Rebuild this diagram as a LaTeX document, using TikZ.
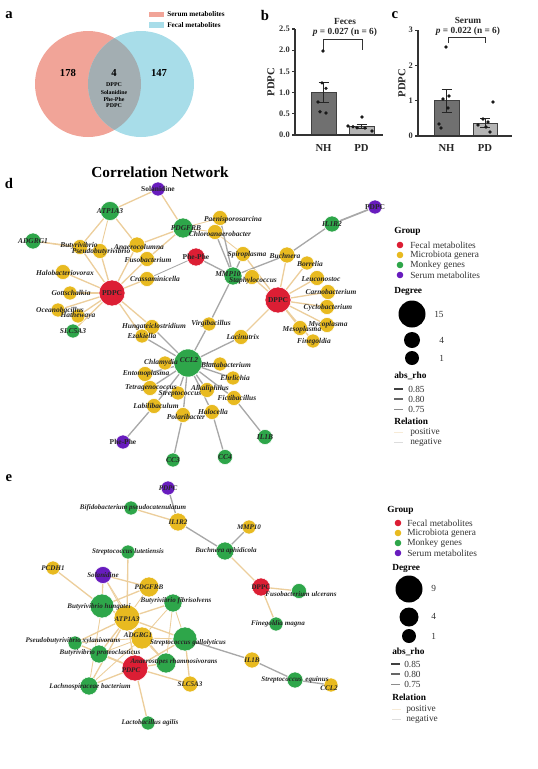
\documentclass[tikz,border=0pt]{standalone}
\usepackage{fontspec}
\setmainfont{Liberation Serif}
\definecolor{fecal}{RGB}{220,30,52}
\definecolor{micro}{RGB}{232,186,32}
\definecolor{monk}{RGB}{46,166,74}
\definecolor{serum}{RGB}{104,28,190}
\definecolor{tanc}{RGB}{236,206,156}
\definecolor{greyc}{RGB}{168,168,168}
\definecolor{salmon}{RGB}{241,164,152}
\definecolor{skyb}{RGB}{168,221,233}
\definecolor{lens}{RGB}{163,174,178}
\definecolor{bardark}{RGB}{112,112,112}
\definecolor{barlight}{RGB}{180,180,180}
\pgfdeclarelayer{bg}\pgfdeclarelayer{fg}\pgfsetlayers{bg,main,fg}
\tikzset{
 nd/.style={circle, inner sep=0pt, draw=white, line width=0.4pt, minimum size=#1*1.5pt},
 fec/.style={nd=#1, fill=fecal}, mic/.style={nd=#1, fill=micro},
 mon/.style={nd=#1, fill=monk}, ser/.style={nd=#1, fill=serum},
 nlab/.style={inner sep=0pt, font=\fontsize{5.3}{6}\selectfont\bfseries\itshape, text=black!85},
 ulab/.style={inner sep=0pt, font=\fontsize{5.3}{6}\selectfont\bfseries, text=black!85},
 dlab/.style={inner sep=0pt, font=\fontsize{5.6}{6}\selectfont\bfseries\itshape, text=black!85},
 dulab/.style={inner sep=0pt, font=\fontsize{5.6}{6}\selectfont\bfseries, text=black!85},
 pe1/.style={draw=tanc, line width=1.3pt}, pe2/.style={draw=tanc, line width=1pt}, pe3/.style={draw=tanc, line width=0.65pt},
 ne1/.style={draw=greyc, line width=1.3pt}, ne2/.style={draw=greyc, line width=1pt}, ne3/.style={draw=greyc, line width=0.65pt},
 leg/.style={anchor=west, inner sep=0pt, font=\fontsize{7}{8}\selectfont, text=black!80},
 legh/.style={anchor=west, inner sep=0pt, font=\fontsize{7}{8}\selectfont\bfseries},
 plet/.style={inner sep=0pt, font=\fontsize{11}{12}\selectfont\bfseries},
 tick/.style={anchor=east, inner sep=0pt, font=\fontsize{6.3}{7}\selectfont\bfseries, text=black!80},
 axl/.style={inner sep=0pt, font=\fontsize{8}{9}\selectfont\bfseries, text=black!85},
 ttl/.style={inner sep=0pt, font=\fontsize{7}{8}\selectfont\bfseries, text=black!85},
 dot/.style={fill=black!90},
 bar/.style={draw=black!75, line width=0.6pt},
 ax/.style={draw=black!80, line width=0.8pt},
 vn/.style={inner sep=0pt, font=\fontsize{8}{9}\selectfont\bfseries},
 vs/.style={inner sep=0pt, font=\fontsize{4.4}{5}\selectfont\bfseries},
}
\begin{document}
\begin{tikzpicture}[x=0.75pt,y=-0.75pt]
\useasboundingbox (0,0) rectangle (537,769);
% ---------------- panel a
\node[plet] (la) at (9,15) {a};
\fill[salmon] (88,84) circle[radius=53];
\fill[skyb] (141,84) circle[radius=53];
\begin{scope}\clip (88,84) circle[radius=53]; \fill[lens] (141,84) circle[radius=53];\end{scope}
\node[vn] (v1) at (68,73) {178};
\node[vn] (v2) at (114,73) {4};
\node[vn] (v3) at (159,73) {147};
\node[vs] (v4) at (114,85) {DPPC};
\node[vs] (v5) at (114,92) {Solanidine};
\node[vs] (v6) at (114,99) {Phe-Phe};
\node[vs] (v7) at (114,106) {PDPC};
\fill[salmon] (149,11.7) rectangle (164,17.3);
\fill[skyb] (149,22) rectangle (164,27.7);
\node[anchor=west, inner sep=0pt, font=\fontsize{5.4}{6}\selectfont\bfseries] (lg1) at (167,14.5) {Serum metabolites};
\node[anchor=west, inner sep=0pt, font=\fontsize{5.4}{6}\selectfont\bfseries] (lg2) at (167,25) {Fecal metabolites};
% ---------------- panel b
\node[plet] (lb) at (265,15) {b};
\node[ttl] (bt1) at (345,21) {Feces};
\node[ttl] (bt2) at (345,32) {\textit{p} = 0.027 (n = 6)};
\draw[black!80, line width=0.7pt] (323,50) -- (323,39) -- (362,39) -- (362,50);
\fill[bardark] (311,135) rectangle (336,92.6); \draw[bar] (311,135) -- (311,92.6) -- (336,92.6) -- (336,135);
\fill[barlight] (349,135) rectangle (374,126.5); \draw[bar] (349,135) -- (349,126.5) -- (374,126.5) -- (374,135);
\draw[black!85, line width=0.7pt] (323.5,102.4) -- (323.5,82.8) (318.5,102.4) -- (328.5,102.4) (318.5,82.8) -- (328.5,82.8);
\draw[black!85, line width=0.7pt] (361.5,128.6) -- (361.5,124.4) (356.5,128.6) -- (366.5,128.6) (356.5,124.4) -- (366.5,124.4);
\foreach \px/\py in {323/51,322/82.8,326/88.4,318/102,320/111.7,326/113,353/126.7,362/117,357/127.7,365/128,372/131,348/126}
  \fill[dot] (\px,\py) circle[radius=1.8];
\draw[ax] (295,29) -- (295,135) -- (383,135);
\foreach \ty/\tl in {135/0.0,113.8/0.5,92.6/1.0,71.4/1.5,50.2/2.0,29/2.5}{
  \draw[ax] (292,\ty) -- (295,\ty);
  \node[tick] at (290,\ty) {\tl};}
\node[axl, rotate=90] (bya) at (271,82) {PDPC};
\node[axl] (bx1) at (323.5,148) {NH};
\node[axl] (bx2) at (361.5,148) {PD};
% ---------------- panel c
\node[plet] (lc) at (395,15) {c};
\node[ttl] (ct1) at (468,20) {Serum};
\node[ttl] (ct2) at (468,31) {\textit{p} = 0.022 (n = 6)};
\draw[black!80, line width=0.7pt] (448,43) -- (448,37.5) -- (485,37.5) -- (485,43);
\fill[bardark] (434,136) rectangle (459,100.7); \draw[bar] (434,136) -- (434,100.7) -- (459,100.7) -- (459,136);
\fill[barlight] (473,136) rectangle (497,123.3); \draw[bar] (473,136) -- (473,123.3) -- (497,123.3) -- (497,136);
\draw[black!85, line width=0.7pt] (446.5,112.3) -- (446.5,89) (441.5,112.3) -- (451.5,112.3) (441.5,89) -- (451.5,89);
\draw[black!85, line width=0.7pt] (485,127.2) -- (485,118.4) (480,127.2) -- (490,127.2) (480,118.4) -- (490,118.4);
\foreach \px/\py in {446/47,449/96,443/99,448/108,439/124,441/128,493/102,483/119,488/122,478/125,486/127,490/132}
  \fill[dot] (\px,\py) circle[radius=1.8];
\draw[ax] (418,30.1) -- (418,136) -- (512,136);
\foreach \ty/\tl in {136/0,100.7/1,65.4/2,30.1/3}{
  \draw[ax] (415,\ty) -- (418,\ty);
  \node[tick] at (413,\ty) {\tl};}
\node[axl, rotate=90] (cya) at (402,83) {PDPC};
\node[axl] (cx1) at (446.5,148) {NH};
\node[axl] (cx2) at (485,148) {PD};
% ---------------- panel d
\node[inner sep=0pt, font=\fontsize{11.5}{13}\selectfont\bfseries] (title) at (160,172) {Correlation Network};
\node[plet] (ld) at (9,183) {d};
\node[ser=7] (sol) at (158,189) {};
\node[mon=9.5] (atp) at (110,211) {};
\node[mon=8] (adg) at (33,241) {};
\node[mon=10] (pdg) at (183,228) {};
\node[mic=7.5] (but) at (80,247) {};
\node[mic=7.5] (pse) at (100,251) {};
\node[mic=8] (ana) at (137,245) {};
\node[mic=7.5] (fus) at (147,259) {};
\node[mic=7.5] (hal) at (63,272) {};
\node[mic=7.5] (cra) at (147,279) {};
\node[mic=7] (got) at (70,293) {};
\node[fec=13] (pdpc) at (112,293) {};
\node[mic=7] (oce) at (58,310) {};
\node[mic=7] (hat) at (78,316) {};
\node[mon=7] (slc) at (73,331) {};
\node[fec=9] (phr) at (196,257) {};
\node[ser=7] (pdpp) at (375,207) {};
\node[mon=8] (ilr) at (332,224) {};
\node[mic=7.5] (pae) at (220,218) {};
\node[mic=7.5] (chl) at (215,232) {};
\node[mic=7.5] (spi) at (243,254) {};
\node[mic=8] (buc) at (287,255) {};
\node[mic=7] (bor) at (307,263) {};
\node[mon=9] (mmp) at (233,276) {};
\node[mic=7.5] (sta) at (252,277) {};
\node[mic=7.5] (leu) at (317,278) {};
\node[mic=7.5] (car) at (328,292) {};
\node[fec=13] (dppc) at (278,300) {};
\node[mic=7.5] (cyc) at (327,307) {};
\node[mic=7.5] (myc) at (327,325) {};
\node[mic=7.5] (mes) at (300,328) {};
\node[mic=7] (fin) at (313,341) {};
\node[mic=7.5] (hun) at (152,327) {};
\node[mic=7] (eza) at (142,336) {};
\node[mic=7] (vir) at (209,324) {};
\node[mic=7.5] (lac) at (241,337) {};
\node[mon=14] (ccl) at (188,363) {};
\node[mic=7] (chla) at (165,363) {};
\node[mic=7.5] (ent) at (145,374) {};
\node[mic=7.5] (tet) at (150,388) {};
\node[mic=7] (str) at (178,393) {};
\node[mic=7.5] (alk) at (207,390) {};
\node[mic=7.5] (labi) at (154,406) {};
\node[mic=7.5] (pol) at (183,415) {};
\node[mic=7] (bla) at (220,364) {};
\node[mic=7] (ehr) at (233,378) {};
\node[mic=7.5] (fic) at (234,398) {};
\node[mic=7.5] (hcl) at (212,412) {};
\node[ser=7] (php) at (123,442) {};
\node[mon=7] (ccc) at (173,460) {};
\node[mon=7.5] (ccd) at (225,457) {};
\node[mon=7.5] (ilb) at (265,437) {};
\begin{pgfonlayer}{bg}
\draw[pe2] (sol) -- (atp); \draw[pe2] (sol) -- (pdg);
\draw[pe2] (atp) -- (but); \draw[pe3] (atp) -- (pse); \draw[pe2] (atp) -- (ana);
\draw[pe2] (adg) -- (but); \draw[pe3] (adg) -- (pse);
\draw[pe2] (pdg) -- (ana); \draw[pe2] (pdg) -- (fus); \draw[pe3] (pdg) -- (pae); \draw[pe3] (pdg) -- (chl);
\foreach \t in {but,pse,hal,got,oce,hat,cra,fus,ana,hun,eza,slc} \draw[pe2] (pdpc) -- (\t);
\foreach \t in {buc,bor,leu,car,cyc,myc,mes,fin,spi,sta,lac} \draw[pe2] (dppc) -- (\t);
\draw[pe3] (chl) -- (spi);
\draw[ne3] (phr) -- (cra); \draw[ne2] (phr) -- (mmp);
\foreach \t in {pae,chl,spi,buc,vir} \draw[ne2] (mmp) -- (\t);
\draw[ne1] (ilr) -- (pdpp); \draw[ne2] (ilr) -- (buc);
\foreach \t in {hun,eza,vir,lac,chla,ent,tet,str,labi,pol,alk,hcl,fic,ehr,bla} \draw[ne2] (ccl) -- (\t);
\draw[ne2] (labi) -- (php); \draw[ne2] (pol) -- (ccc); \draw[ne2] (hcl) -- (ccd); \draw[ne2] (fic) -- (ilb);
\end{pgfonlayer}
\begin{pgfonlayer}{fg}
\node[dulab] (solt) at (sol) {Solanidine};
\node[dlab] (atpt) at (atp) {ATP1A3};
\node[dlab] (adgt) at (adg) {ADGRG1};
\node[dlab] (pdgt) at (186,228) {PDGFRB};
\node[dlab] (butt) at (79,246) {Butyrivibrio};
\node[dlab] (pset) at (101,252) {Pseudobutyrivibrio};
\node[dlab] (anat) at (139,247) {Anaerocolumna};
\node[dlab] (fust) at (148,260) {Fusobacterium};
\node[dlab] (halt) at (65,273) {Halobacteriovorax};
\node[dlab] (crat) at (155,279) {Crassaminicella};
\node[dlab] (gott) at (71,293) {Gottschalkia};
\node[dulab] (pdpct) at (pdpc) {PDPC};
\node[dlab] (ocet) at (60,310) {Oceanobacillus};
\node[dlab] (hatt) at (78,316) {Hathewaya};
\node[dlab] (slct) at (slc) {SLC5A3};
\node[dulab] (phrt) at (phr) {Phe-Phe};
\node[dulab] (pdppt) at (pdpp) {PDPC};
\node[dlab] (ilrt) at (ilr) {IL1R2};
\node[dlab] (paet) at (233,220) {Paenisporosarcina};
\node[dlab] (chlt) at (220,234) {Chloroanaerobacter};
\node[dlab] (spit) at (247,255) {Spiroplasma};
\node[dlab] (buct) at (285,256) {Buchnera};
\node[dlab] (bort) at (310,264) {Borrelia};
\node[dlab] (mmpt) at (228,274) {MMP10};
\node[dlab] (stat) at (253,281) {Staphylococcus};
\node[dlab] (leut) at (321,279) {Leuconostoc};
\node[dlab] (cart) at (331,292) {Carnobacterium};
\node[dulab] (dppct) at (dppc) {DPPC};
\node[dlab] (cyct) at (328,308) {Cyclobacterium};
\node[dlab] (myct) at (328,325) {Mycoplasma};
\node[dlab] (mest) at (302,330) {Mesoplasma};
\node[dlab] (fint) at (314,342) {Finegoldia};
\node[dlab] (hunt) at (154,327) {Hungateiclostridium};
\node[dlab] (ezat) at (142,336) {Ezakiella};
\node[dlab] (virt) at (211,324) {Virgibacillus};
\node[dlab] (lact) at (243,337) {Lacinutrix};
\node[dlab] (cclt) at (189,360) {CCL2};
\node[dlab] (chlat) at (161,363) {Chlamydia};
\node[dlab] (entt) at (146,374) {Entomoplasma};
\node[dlab] (tett) at (151,388) {Tetragenococcus};
\node[dlab] (strt) at (180,394) {Streptococcus};
\node[dlab] (alkt) at (210,389) {Alkaliphilus};
\node[dlab] (labit) at (156,406) {Labilibaculum};
\node[dlab] (polt) at (186,417) {Polaribacter};
\node[dlab] (blat) at (226,365) {Blattabacterium};
\node[dlab] (ehrt) at (235,378) {Ehrlichia};
\node[dlab] (fict) at (237,398) {Fictibacillus};
\node[dlab] (hclt) at (213,412) {Halocella};
\node[dulab] (phpt) at (php) {Phe-Phe};
\node[dlab] (ccct) at (ccc) {CC3};
\node[dlab] (ccdt) at (ccd) {CC4};
\node[dlab] (ilbt) at (ilb) {IL1B};
\end{pgfonlayer}
% legend d
\node[legh] (dg) at (394,231) {Group};
\fill[fecal] (400,245) circle[radius=3.3]; \node[leg] (dg1) at (410,245) {Fecal metabolites};
\fill[micro] (400,255) circle[radius=3.3]; \node[leg] (dg2) at (410,255) {Microbiota genera};
\fill[monk] (400,265) circle[radius=3.3]; \node[leg] (dg3) at (410,265) {Monkey genes};
\fill[serum] (400,275) circle[radius=3.3]; \node[leg] (dg4) at (410,275) {Serum metabolites};
\node[legh] (dd) at (394,291) {Degree};
\fill[black] (412,314) circle[radius=13.5]; \node[leg] (dd1) at (434,314) {15};
\fill[black] (412,340) circle[radius=8]; \node[leg] (dd2) at (439,340) {4};
\fill[black] (412,358) circle[radius=7]; \node[leg] (dd3) at (439,358) {1};
\node[legh] (dr) at (394,376) {abs\_rho};
\draw[black!75, line width=1.3pt] (394,389) -- (403,389); \node[leg] (dr1) at (408,389) {0.85};
\draw[black!60, line width=1pt] (394,399) -- (403,399); \node[leg] (dr2) at (408,399) {0.80};
\draw[black!45, line width=0.7pt] (394,409) -- (403,409); \node[leg] (dr3) at (408,409) {0.75};
\node[legh] (drl) at (394,421) {Relation};
\draw[tanc!40, line width=0.5pt] (394,432) -- (403,432); \node[leg] (drl1) at (410,432) {positive};
\draw[greyc!40, line width=0.5pt] (394,442) -- (403,442); \node[leg] (drl2) at (410,442) {negative};
% ---------------- panel e
\node[plet] (le) at (9,478) {e};
\node[ser=7] (epdp) at (168,488) {};
\node[mon=7] (ebif) at (131,508) {};
\node[mic=9] (eilr) at (178,522) {};
\node[mic=7] (emmp) at (249,527) {};
\node[mon=9] (ebuc) at (225,551) {};
\node[mon=7] (estl) at (128,552) {};
\node[mic=7] (epcd) at (53,568) {};
\node[ser=8.5] (esol) at (103,575) {};
\node[mic=10] (epdg) at (149,587) {};
\node[fec=9] (edppc) at (261,587) {};
\node[mon=7.5] (efuu) at (299,591) {};
\node[mon=9] (ebfi) at (173,603) {};
\node[mon=12] (ebhu) at (102,606) {};
\node[mic=13] (eatp) at (127,618) {};
\node[mon=7] (efin) at (276,624) {};
\node[mic=11] (eadg) at (142,638) {};
\node[mon=12] (esga) at (185,639) {};
\node[mon=7] (epxy) at (75,643) {};
\node[mon=9] (ebpr) at (99,654) {};
\node[fec=13] (epdpc) at (135,668) {};
\node[mon=10] (eans) at (166,663) {};
\node[mic=8] (eslc) at (190,684) {};
\node[mon=9] (elach) at (89,686) {};
\node[mon=7] (elag) at (148,723) {};
\node[mic=8] (eilb) at (252,660) {};
\node[mon=8] (eseq) at (295,680) {};
\node[mic=7] (eccl) at (331,685) {};
\begin{pgfonlayer}{bg}
\draw[ne2] (epdp) -- (eilr); \draw[ne2] (eilr) -- (ebuc); \draw[ne2] (emmp) -- (ebuc);
\draw[ne2] (esga) -- (eilb); \draw[ne2] (eilb) -- (eseq); \draw[ne2] (eseq) -- (eccl);
\draw[pe2] (ebif) -- (eilr); \draw[pe2] (ebuc) -- (edppc); \draw[pe2] (edppc) -- (efuu); \draw[pe2] (edppc) -- (efin);
\draw[pe2] (estl) -- (eatp); \draw[pe2] (epcd) -- (ebhu);
\draw[pe2] (esol) -- (epdg); \draw[pe2] (esol) -- (ebhu); \draw[pe3] (esol) -- (eatp); \draw[pe3] (esol) -- (eadg);
\draw[pe2] (epdg) -- (ebhu); \draw[pe3] (epdg) -- (eatp);
\draw[pe2] (ebfi) -- (eatp); \draw[pe3] (ebfi) -- (eadg); \draw[pe3] (ebfi) -- (esga); \draw[pe3] (ebfi) -- (eans);
\foreach \t in {ebhu,epxy,ebpr,elach,epdpc,eans,esga} \draw[pe2] (eatp) -- (\t);
\foreach \t in {epxy,ebpr,elach,esga,eans} \draw[pe3] (eadg) -- (\t);
\foreach \t in {ebpr,elach,esga,eans,eslc,elag,epxy} \draw[pe2] (epdpc) -- (\t);
\draw[pe2] (esga) -- (eslc); \draw[pe3] (ebhu) -- (elach);
\end{pgfonlayer}
\begin{pgfonlayer}{fg}
\node[nlab] (epdpt) at (epdp) {PDPC};
\node[nlab] (ebift) at (133,508) {Bifidobacterium pseudocatenulatum};
\node[nlab] (eilrt) at (eilr) {IL1R2};
\node[nlab] (emmpt) at (emmp) {MMP10};
\node[nlab] (ebuct) at (226,551) {Buchnera aphidicola};
\node[nlab] (estlt) at (128,552) {Streptococcus lutetiensis};
\node[nlab] (epcdt) at (epcd) {PCDH1};
\node[nlab] (esolt) at (esol) {Solanidine};
\node[nlab] (epdgt) at (epdg) {PDGFRB};
\node[ulab] (edppct) at (edppc) {DPPC};
\node[nlab] (efuut) at (301,594) {Fusobacterium ulcerans};
\node[nlab] (ebfit) at (176,601) {Butyrivibrio fibrisolvens};
\node[nlab] (ebhut) at (99,607) {Butyrivibrio hungatei};
\node[nlab] (eatpt) at (127,619) {ATP1A3};
\node[nlab] (efint) at (278,624) {Finegoldia magna};
\node[nlab] (eadgt) at (138,635) {ADGRG1};
\node[nlab] (esgat) at (188,643) {Streptococcus gallolyticus};
\node[nlab] (epxyt) at (73,641) {Pseudobutyrivibrio xylanivorans};
\node[nlab] (ebprt) at (100,653) {Butyrivibrio proteoclasticus};
\node[nlab] (epdpct) at (131,670) {PDPC};
\node[nlab] (eanst) at (174,662) {Anaerostipes rhamnosivorans};
\node[nlab] (eslct) at (eslc) {SLC5A3};
\node[nlab] (elacht) at (90,687) {Lachnospiraceae bacterium};
\node[nlab] (elagt) at (150,723) {Lactobacillus agilis};
\node[nlab] (eilbt) at (eilb) {IL1B};
\node[nlab] (eseqt) at (295,680) {Streptococcus\ \ equinus};
\node[nlab] (ecclt) at (329,688) {CCL2};
\end{pgfonlayer}
% legend e
\node[legh] (eg) at (387,510) {Group};
\fill[fecal] (398,523) circle[radius=3.3]; \node[leg] (eg1) at (407,523) {Fecal metabolites};
\fill[micro] (398,533) circle[radius=3.3]; \node[leg] (eg2) at (407,533) {Microbiota genera};
\fill[monk] (398,543) circle[radius=3.3]; \node[leg] (eg3) at (407,543) {Monkey genes};
\fill[serum] (398,553) circle[radius=3.3]; \node[leg] (eg4) at (407,553) {Serum metabolites};
\node[legh] (ed) at (392,568) {Degree};
\fill[black] (409,589) circle[radius=13.5]; \node[leg] (ed1) at (431,588) {9};
\fill[black] (409,617) circle[radius=9.5]; \node[leg] (ed2) at (431,616) {4};
\fill[black] (409,636) circle[radius=7]; \node[leg] (ed3) at (431,636) {1};
\node[legh] (er) at (392,652) {abs\_rho};
\draw[black!75, line width=1.3pt] (391,664) -- (400,664); \node[leg] (er1) at (404,664) {0.85};
\draw[black!60, line width=1pt] (391,674) -- (400,674); \node[leg] (er2) at (404,674) {0.80};
\draw[black!45, line width=0.7pt] (391,684) -- (400,684); \node[leg] (er3) at (404,684) {0.75};
\node[legh] (erl) at (392,697) {Relation};
\draw[tanc!40, line width=0.5pt] (392,709) -- (401,709); \node[leg] (erl1) at (406,709) {positive};
\draw[greyc!40, line width=0.5pt] (392,719) -- (401,719); \node[leg] (erl2) at (406,719) {negative};
\end{tikzpicture}
\end{document}
